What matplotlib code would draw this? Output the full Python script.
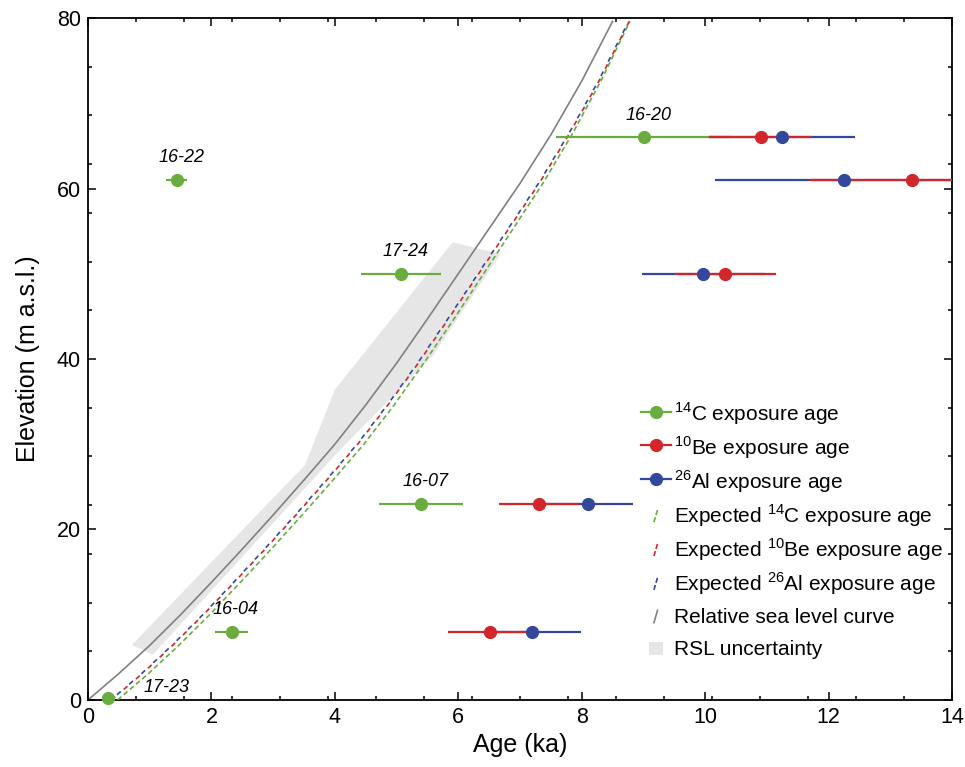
import numpy as np
import matplotlib
matplotlib.use("Agg")
import matplotlib.pyplot as plt
from matplotlib.lines import Line2D
from matplotlib.patches import Patch, Rectangle
from matplotlib.legend_handler import HandlerBase
from matplotlib.ticker import FixedLocator

plt.rcParams['font.family'] = ['Liberation Sans', 'DejaVu Sans']
plt.rcParams['mathtext.fontset'] = 'custom'
plt.rcParams['mathtext.rm'] = 'Liberation Sans'
plt.rcParams['lines.scale_dashes'] = False

# relative sea level curve (age ka, elevation m)
rsl_age = [0, 0.5, 1, 1.5, 2, 2.5, 3, 3.5, 4, 4.5, 5, 5.5, 6, 6.5, 7, 7.5, 8, 8.5]
rsl_elev = [0, 3.1, 6.4, 10.0, 13.8, 17.7, 21.7, 25.8, 30.0, 34.6, 39.5, 44.7,
            50.0, 55.3, 60.6, 66.3, 72.6, 79.6]

# RSL uncertainty band outline
band_age = [0.71, 3.52, 4.0, 5.91, 6.68, 5.6, 4.65, 4.08, 1.05]
band_elev = [6.45, 27.6, 36.4, 53.7, 52.3, 40.5, 33.5, 29.3, 5.3]

# expected exposure ages (same elevations as the RSL curve)
exp_elev = rsl_elev
exp_c14 = [0.48, 0.98, 1.47, 1.97, 2.47, 2.97, 3.47, 3.97, 4.47, 4.96, 5.44, 5.93,
           6.41, 6.89, 7.37, 7.84, 8.31, 8.78]
exp_be10 = [0.38, 0.88, 1.37, 1.87, 2.37, 2.87, 3.37, 3.87, 4.37, 4.86, 5.35, 5.84,
            6.33, 6.82, 7.31, 7.79, 8.28, 8.77]
exp_al26 = [0.37, 0.87, 1.36, 1.86, 2.36, 2.86, 3.36, 3.86, 4.36, 4.85, 5.34, 5.83,
            6.32, 6.81, 7.30, 7.78, 8.27, 8.76]

# 14C exposure ages
c14_names = ['17-23', '16-04', '16-22', '17-24', '16-07', '16-20']
c14_elev = [0.2, 8, 61, 50, 23, 66]
c14_age = [0.33, 2.33, 1.44, 5.07, 5.40, 9.01]
c14_err = [0.05, 0.27, 0.17, 0.65, 0.68, 1.43]

# 10Be exposure ages
be_elev = [8, 23, 50, 61, 66]
be_age = [6.52, 7.31, 10.33, 13.36, 10.90]
be_err = [0.69, 0.65, 0.82, 1.66, 0.83]

# 26Al exposure ages
al_elev = [8, 23, 50, 61, 66]
al_age = [7.20, 8.10, 9.97, 12.25, 11.25]
al_err = [0.79, 0.73, 1.00, 2.09, 1.18]

green = '#6aac3e'
red = '#d1262a'
blue = '#33479b'
grey = '#808080'
band_col = '#e6e6e6'

fig = plt.figure(figsize=(9.65, 7.67), dpi=100)
ax = fig.add_axes([0.0912, 0.0874, 0.8953, 0.8891])

ax.fill(band_age, band_elev, color=band_col, lw=0, zorder=1)
ax.plot(rsl_age, rsl_elev, color=grey, lw=1.2, zorder=2)

ax.plot(exp_c14, exp_elev, color=green, lw=1.2, dashes=(3.6, 2.2), zorder=3)
ax.plot(exp_be10, exp_elev, color=red, lw=1.2, linestyle=(0, (3.6, 8.0)), zorder=3)
ax.plot(exp_al26, exp_elev, color=blue, lw=1.2, linestyle=(5.8, (3.6, 8.0)), zorder=3)

# error bars first, markers on top
ax.hlines(c14_elev, np.array(c14_age) - c14_err, np.array(c14_age) + c14_err,
          color=green, lw=1.6, zorder=4)
ax.hlines(al_elev, np.array(al_age) - al_err, np.array(al_age) + al_err,
          color=blue, lw=1.6, zorder=4)
ax.hlines(be_elev, np.array(be_age) - be_err, np.array(be_age) + be_err,
          color=red, lw=1.6, zorder=4)
ax.plot(c14_age, c14_elev, 'o', color=green, ms=8.5, zorder=6, clip_on=False)
ax.plot(be_age, be_elev, 'o', color=red, ms=8.5, zorder=6)
ax.plot(al_age, al_elev, 'o', color=blue, ms=8.5, zorder=6)

for name, a, e in zip(c14_names, c14_age, c14_elev):
    off = (42, 8) if name == '17-23' else (3, 16)
    ax.annotate(name, (a, e), xytext=off, textcoords='offset points',
                ha='center', va='center', fontsize=13, style='italic', zorder=7)

ax.set_xlim(0, 14)
ax.set_ylim(0, 80)
ax.set_xticks(range(0, 15, 2))
ax.set_yticks(range(0, 81, 20))
ax.xaxis.set_minor_locator(FixedLocator(np.linspace(0, 14, 19)))
ax.yaxis.set_minor_locator(FixedLocator(np.linspace(0, 80, 15)))
ax.tick_params(which='both', direction='in', top=True, right=True, labelsize=15.5, width=1.1)
ax.tick_params(which='major', length=6, pad=5)
ax.tick_params(which='minor', length=3)
for s in ax.spines.values():
    s.set_linewidth(1.3)
ax.set_xlabel('Age (ka)', fontsize=18, labelpad=4)
ax.set_ylabel('Elevation (m a.s.l.)', fontsize=18, labelpad=12)


class Diagonal(HandlerBase):
    def create_artists(self, legend, orig, xd, yd, w, h, fs, trans):
        ln = Line2D([w * 0.44 - xd, w * 0.56 - xd], [h * 0.25 - yd, h * 0.75 - yd],
                    color=orig.get_color(), lw=1.2, linestyle=orig.get_linestyle())
        ln.set_transform(trans)
        return [ln]


class Square(HandlerBase):
    def create_artists(self, legend, orig, xd, yd, w, h, fs, trans):
        s = 0.55 * h
        r = Rectangle((w * 0.5 - s / 2 - xd, h * 0.5 - s / 2 - yd), s, s,
                      facecolor=orig.get_facecolor(), lw=0, transform=trans)
        return [r]


handles = [
    Line2D([], [], color=green, marker='o', ms=8.5, lw=1.6),
    Line2D([], [], color=red, marker='o', ms=8.5, lw=1.6),
    Line2D([], [], color=blue, marker='o', ms=8.5, lw=1.6),
    Line2D([], [], color=green, linestyle=(0, (2.2, 1.6))),
    Line2D([], [], color=red, linestyle=(0, (2.2, 1.6))),
    Line2D([], [], color=blue, linestyle=(0, (2.2, 1.6))),
    Line2D([], [], color=grey),
    Patch(color=band_col),
]
labels = [r'$^{14}$C exposure age', r'$^{10}$Be exposure age', r'$^{26}$Al exposure age',
          r'Expected $^{14}$C exposure age', r'Expected $^{10}$Be exposure age',
          r'Expected $^{26}$Al exposure age', 'Relative sea level curve', 'RSL uncertainty']
hmap = {h: Diagonal() for h in handles[3:7]}
hmap[handles[7]] = Square()
ax.legend(handles, labels, handler_map=hmap, loc='upper left',
          bbox_to_anchor=(0.630, 0.451), frameon=False, fontsize=15,
          handlelength=1.45, handleheight=1.45, handletextpad=0.15,
          labelspacing=0.35, borderaxespad=0)

fig.savefig('out.png', dpi=100)
